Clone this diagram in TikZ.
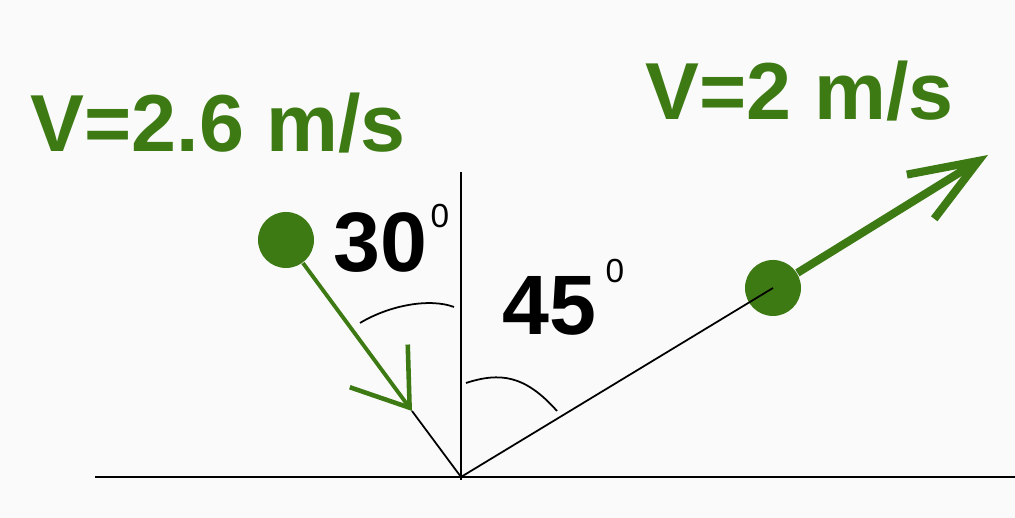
\documentclass[tikz,border=0pt]{standalone}
\usepackage{fontspec}
\setmainfont{Liberation Sans}
\usetikzlibrary{arrows.meta}
\definecolor{ballgreen}{RGB}{61,122,20}

\begin{document}
\begin{tikzpicture}[
    ball/.style={circle, fill=ballgreen, inner sep=0pt, minimum size=0.56cm},
    speed/.style={ballgreen, inner sep=0pt, anchor=base west, font=\fontsize{23}{23}\selectfont\bfseries},
    angletext/.style={inner sep=0pt, anchor=base west, font=\fontsize{24}{24}\selectfont\bfseries},
    thinline/.style={black, line width=0.5pt}
  ]
            \fill[white!98!black] (0,0) rectangle (10.15,5.18);
            \useasboundingbox (0,0) rectangle (10.15,5.18);

            % Wall and normal
            \coordinate (O) at (4.61, 0.41);
            \coordinate (G1) at (0.95, 0.41);
            \coordinate (G2) at (10.15, 0.41);
            \coordinate (N1) at (4.61, 3.46);
            \coordinate (N2) at (4.61, 0.38);
            \draw[line width=0.75pt] (G1) -- (G2);
            \draw[thinline] (N1) -- (N2);

            % Incoming ball
            \node[ball] (b1) at (2.86, 2.78) {};
            \coordinate (T1) at (4.12, 1.07);
            \draw[ballgreen, line width=1.1pt, -{Straight Barb[length=0.52cm, width=0.72cm, line width=1.3pt]}] (b1) -- (T1);
            \draw[thinline] (T1) -- (O);

            % Outgoing ball
            \node[ball] (b2) at (7.73, 2.30) {};
            \coordinate (T2) at (9.88, 3.63);
            \draw[ballgreen, line width=2.3pt, -{Straight Barb[length=0.68cm, width=0.52cm, line width=2.3pt]}] (b2) -- (T2);
            \draw[thinline] (O) -- (b2.center);

            % Angles
            \draw[thinline] (3.60,1.95) .. controls (3.90,2.13) and (4.30,2.20) .. (4.54,2.11);
            \draw[thinline] (4.66,1.35) .. controls (5.00,1.46) and (5.25,1.43) .. (5.57,1.07);
            \node[angletext] (a30) at (3.33, 2.46) {30\hspace{0.03cm}\raisebox{0.44cm}{\fontsize{9.5}{9.5}\selectfont\mdseries 0}};
            \node[angletext] (a45) at (5.02, 1.83) {45\hspace{0.09cm}\raisebox{0.52cm}{\fontsize{9.5}{9.5}\selectfont\mdseries 0}};

            % Speeds
            \node[speed] (v1) at (0.30, 3.66) {V=2.6 m/s};
            \node[speed] (v2) at (6.45, 3.98) {V=2 m/s};
        \end{tikzpicture}
\end{document}
